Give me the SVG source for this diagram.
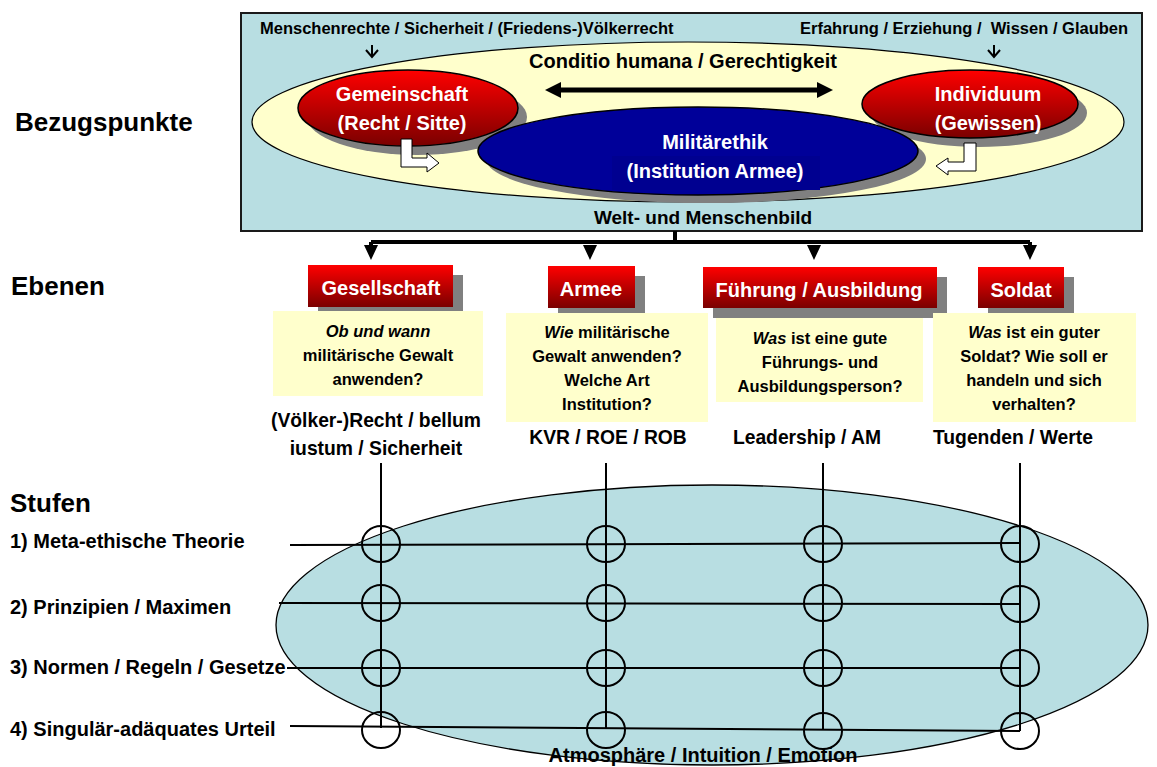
<svg xmlns="http://www.w3.org/2000/svg" width="1157" height="767" viewBox="0 0 1157 767">
<defs>
  <linearGradient id="red" x1="0" y1="0" x2="0" y2="1">
    <stop offset="0" stop-color="#ff0000"/>
    <stop offset="1" stop-color="#7a0000"/>
  </linearGradient>
  <path id="dhead" d="M-7,0 L7,0 L0,15 Z" fill="#000"/>
  <style>
    text { font-family: "Liberation Sans", Arial, sans-serif; font-weight: bold; }
    .c { text-anchor: middle; }
    .w { fill: #fff; }
    .k { fill: #000; }
    .t16 { font-size: 16.5px; }
    .t17 { font-size: 16.5px; }
    .t19 { font-size: 19.3px; }
    .t20 { font-size: 20px; }
    .t26 { font-size: 26px; }
    .shadow { fill: #808080; }
    .hdr { fill: url(#red); }
    .note { fill: #ffffcc; }
    .ln { stroke: #000; stroke-width: 2; fill: none; }
    .circ { stroke: #000; stroke-width: 2; fill: none; }
    .hollow { fill: #fff; stroke: #000; stroke-width: 1; }
  </style>
</defs>
<rect width="1157" height="767" fill="#fff"/>

<!-- Left labels -->
<g id="labels-left">
  <text class="t26 k" x="15" y="131">Bezugspunkte</text>
  <text class="t26 k" x="11" y="295">Ebenen</text>
  <text class="t26 k" x="10" y="512">Stufen</text>
  <text class="t20 k" x="10" y="548">1) Meta-ethische Theorie</text>
  <text class="t20 k" x="10" y="614">2) Prinzipien / Maximen</text>
  <text class="t20 k" x="10" y="674">3) Normen / Regeln / Gesetze</text>
  <text class="t20 k" x="10" y="736">4) Singulär-adäquates Urteil</text>
</g>

<!-- Top box -->
<g id="bezugspunkte-box">
  <rect x="241" y="13" width="901" height="218" fill="#b8dee2" stroke="#1a1a1a" stroke-width="2"/>
  <ellipse cx="688" cy="122" rx="436" ry="80" fill="#ffffcc" stroke="#000" stroke-width="1.2"/>
  <text class="t16 k" x="260" y="34">Menschenrechte / Sicherheit / (Friedens-)Völkerrecht</text>
  <text class="t16 k" x="800" y="34" style="white-space:pre">Erfahrung / Erziehung /  Wissen / Glauben</text>
  <text class="t20 k c" x="683" y="68">Conditio humana / Gerechtigkeit</text>
  <text class="k c" x="703" y="224" font-size="19px">Welt- und Menschenbild</text>
  <path class="ln" d="M372,45 L372,57 M366,50 L372,57 L378,50" stroke-width="1.3"/>
  <path class="ln" d="M994,45 L994,57 M988,50 L994,57 L1000,50" stroke-width="1.3"/>
  <g id="double-arrow">
    <line x1="556" y1="90" x2="822" y2="90" stroke="#000" stroke-width="5"/>
    <path d="M545,90 L561,82 L561,98 Z" fill="#000"/>
    <path d="M833,90 L817,82 L817,98 Z" fill="#000"/>
  </g>
</g>

<g id="gemeinschaft">
  <ellipse class="shadow" cx="417" cy="117" rx="110" ry="38"/>
  <ellipse cx="408" cy="108" rx="110" ry="38" fill="url(#red)" stroke="#000" stroke-width="1.5"/>
  <text class="t20 w c" x="402" y="101">Gemeinschaft</text>
  <text class="t20 w c" x="402" y="130">(Recht / Sitte)</text>
</g>

<g id="individuum">
  <ellipse class="shadow" cx="979" cy="113" rx="108" ry="34"/>
  <ellipse cx="970" cy="104" rx="108" ry="34" fill="url(#red)" stroke="#000" stroke-width="1.5"/>
  <text class="t20 w c" x="988" y="101">Individuum</text>
  <text class="t20 w c" x="988" y="130">(Gewissen)</text>
</g>

<g id="militaerethik">
  <ellipse class="shadow" cx="706" cy="159" rx="220" ry="44"/>
  <ellipse cx="698" cy="151" rx="220" ry="44" fill="#000099" stroke="#000" stroke-width="1.5"/>
  <rect x="612" y="156" width="208" height="34" fill="#000090"/>
  <text class="t20 w c" x="715" y="149">Militärethik</text>
  <text class="t20 w c" x="715" y="178">(Institution Armee)</text>
</g>

<g id="hollow-arrows">
  <path class="hollow" d="M401,139 L412,139 L412,158 L427,158 L427,153 L439,163 L427,172 L427,167 L401,167 Z"/>
  <path class="hollow" d="M964,143 L976,143 L976,171 L948,171 L948,175 L936,166 L948,158 L948,162 L964,162 Z"/>
</g>

<!-- Connectors -->
<g id="connectors">
  <path d="M675,231 L675,242 M371,242 L1030,242 M371,242 L371,247 M1030,242 L1030,247" stroke="#000" stroke-width="4" fill="none"/>
  <use href="#dhead" x="371" y="245"/>
  <use href="#dhead" x="590" y="245"/>
  <use href="#dhead" x="814" y="245"/>
  <use href="#dhead" x="1030" y="245"/>
</g>

<!-- Ebenen -->
<g id="gesellschaft">
  <rect class="shadow" x="318" y="275" width="145" height="42"/>
  <rect class="hdr" x="308" y="265" width="145" height="42"/>
  <text class="t20 w c" x="381" y="295">Gesellschaft</text>
  <rect class="note" x="273" y="311" width="210" height="85"/>
  <text class="t17 k c" x="378" y="337"><tspan font-style="italic">Ob und wann</tspan></text>
  <text class="t17 k c" x="378" y="361">militärische Gewalt</text>
  <text class="t17 k c" x="378" y="385">anwenden?</text>
  <text class="t19 k c" x="376" y="427">(Völker-)Recht / bellum</text>
  <text class="t19 k c" x="376" y="455">iustum / Sicherheit</text>
</g>

<g id="armee">
  <rect class="shadow" x="558" y="276" width="87" height="42"/>
  <rect class="hdr" x="548" y="266" width="87" height="42"/>
  <text class="t20 w c" x="591" y="296">Armee</text>
  <rect class="note" x="506" y="313" width="202" height="109"/>
  <text class="t17 k c" x="607" y="338"><tspan font-style="italic">Wie</tspan> militärische</text>
  <text class="t17 k c" x="607" y="362">Gewalt anwenden?</text>
  <text class="t17 k c" x="607" y="386">Welche Art</text>
  <text class="t17 k c" x="607" y="410">Institution?</text>
  <text class="t19 k c" x="608" y="444">KVR / ROE / ROB</text>
</g>

<g id="fuehrung">
  <rect class="shadow" x="713" y="277" width="234" height="41"/>
  <rect class="hdr" x="703" y="267" width="234" height="41"/>
  <text class="t20 w c" x="819" y="297">Führung / Ausbildung</text>
  <rect class="note" x="716" y="318" width="207" height="84"/>
  <text class="t17 k c" x="820" y="344"><tspan font-style="italic">Was</tspan> ist eine gute</text>
  <text class="t17 k c" x="820" y="368">Führungs- und</text>
  <text class="t17 k c" x="820" y="392">Ausbildungsperson?</text>
  <text class="t19 k c" x="807" y="444">Leadership / AM</text>
</g>

<g id="soldat">
  <rect class="shadow" x="988" y="277" width="86" height="41"/>
  <rect class="hdr" x="978" y="267" width="86" height="41"/>
  <text class="t20 w c" x="1021" y="297">Soldat</text>
  <rect class="note" x="933" y="313" width="203" height="109"/>
  <text class="t17 k c" x="1034" y="338"><tspan font-style="italic">Was</tspan> ist ein guter</text>
  <text class="t17 k c" x="1034" y="362">Soldat? Wie soll er</text>
  <text class="t17 k c" x="1034" y="386">handeln und sich</text>
  <text class="t17 k c" x="1034" y="410">verhalten?</text>
  <text class="t19 k c" x="1013" y="444">Tugenden / Werte</text>
</g>

<!-- Stufen grid -->
<g id="stufen-ellipse">
  <ellipse cx="712" cy="625" rx="436" ry="140" fill="#b8dee2" stroke="#000" stroke-width="1.3"/>
  <text class="t20 k c" x="703" y="762">Atmosphäre / Intuition / Emotion</text>
</g>

<g id="grid-lines">
  <path class="ln" d="M381,463 L381,728 M606,463 L606,729 M823,463 L823,730 M1020,463 L1020,731"/>
  <path class="ln" d="M290,545 L1020,543 M279,603 L1020,604 M287,668 L1020,668 M290,726 L1020,731"/>
</g>

<g id="grid-circles">
  <ellipse class="circ" cx="381" cy="544" rx="19" ry="18"/>
  <ellipse class="circ" cx="606" cy="544" rx="19" ry="18"/>
  <ellipse class="circ" cx="823" cy="544" rx="19" ry="18"/>
  <ellipse class="circ" cx="1020" cy="544" rx="19" ry="18"/>
  <ellipse class="circ" cx="381" cy="603" rx="19" ry="18"/>
  <ellipse class="circ" cx="606" cy="603" rx="19" ry="18"/>
  <ellipse class="circ" cx="823" cy="603" rx="19" ry="18"/>
  <ellipse class="circ" cx="1020" cy="604" rx="19" ry="18"/>
  <ellipse class="circ" cx="381" cy="668" rx="19" ry="18"/>
  <ellipse class="circ" cx="606" cy="668" rx="19" ry="18"/>
  <ellipse class="circ" cx="823" cy="668" rx="19" ry="18"/>
  <ellipse class="circ" cx="1020" cy="668" rx="19" ry="18"/>
  <ellipse class="circ" cx="381" cy="730" rx="19" ry="18"/>
  <ellipse class="circ" cx="606" cy="730" rx="19" ry="18"/>
  <ellipse class="circ" cx="823" cy="731" rx="19" ry="18"/>
  <ellipse class="circ" cx="1020" cy="731" rx="19" ry="18"/>
</g>
</svg>
